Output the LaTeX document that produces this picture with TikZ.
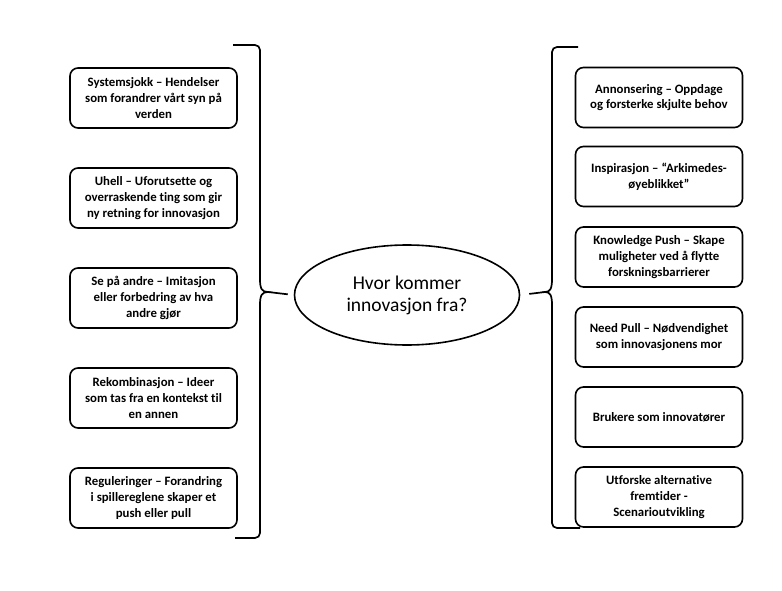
\documentclass[tikz,border=0pt]{standalone}
\usepackage{fontspec}
\setmainfont{Carlito}[Ligatures={NoCommon}]
\usetikzlibrary{shapes.geometric}
\begin{document}
\begin{tikzpicture}[x=1pt,y=-1pt,
  box/.style={draw, line width=1.6pt, rounded corners=8pt, minimum width=167pt, minimum height=60pt,
    align=center, inner sep=1pt, font=\bfseries\fontsize{12.8}{15.8}\selectfont},
  brk/.style={line width=1.7pt, rounded corners=5pt},
  conn/.style={line width=1.7pt}]
\useasboundingbox (0,0) rectangle (782,591);
% central ellipse
\node[draw, ellipse, line width=1.6pt, minimum width=225pt, minimum height=100pt, inner sep=0pt,
  align=center, font=\fontsize{19.5}{22}\selectfont] (c) at (407,295) {Hvor kommer\\innovasjon fra?};
% left boxes
\node[box] (l1) at (153.5,98) {Systemsjokk – Hendelser\\som forandrer vårt syn på\\verden};
\node[box] (l2) at (153.5,198) {Uhell – Uforutsette og\\overraskende ting som gir\\ny retning for innovasjon};
\node[box] (l3) at (153.5,298) {Se på andre – Imitasjon\\eller forbedring av hva\\andre gjør};
\node[box] (l4) at (153.5,398) {Rekombinasjon – Ideer\\som tas fra en kontekst til\\en annen};
\node[box] (l5) at (153.5,498) {Reguleringer – Forandring\\i spillereglene skaper et\\push eller pull};
% right boxes
\node[box] (r1) at (659,97.5) {Annonsering – Oppdage\\og forsterke skjulte behov};
\node[box] (r2) at (659,176.5) {Inspirasjon – “Arkimedes-\\øyeblikket”};
\node[box] (r3) at (659,257) {Knowledge Push – Skape\\muligheter ved å flytte\\forskningsbarrierer};
\node[box] (r4) at (659,337) {Need Pull – Nødvendighet\\som innovasjonens mor};
\node[box] (r5) at (659,417) {Brukere som innovatører};
\node[box] (r6) at (659,497) {Utforske alternative\\fremtider -\\Scenarioutvikling};
% left bracket
\coordinate (ltip) at (268,292);
\draw[brk] (233,45) -- (260,45) -- (260,280);
\draw[conn] (260,279) .. controls (260,289) and (262,292) .. (ltip)
  .. controls (262,292) and (260,295) .. (260,305);
\draw[brk] (260,304) -- (260,538) -- (235,538);
\draw[conn, shorten >=6pt] (ltip) -- (c.west);
% right bracket
\coordinate (rtip) at (545,292);
\draw[brk] (578,47) -- (552,47) -- (552,280);
\draw[conn] (552,279) .. controls (552,289) and (550,292) .. (rtip)
  .. controls (550,292) and (552,295) .. (552,305);
\draw[brk] (552,304) -- (552,528) -- (580,528);
\draw[conn, shorten >=9pt] (rtip) -- (c.east);
\end{tikzpicture}
\end{document}
